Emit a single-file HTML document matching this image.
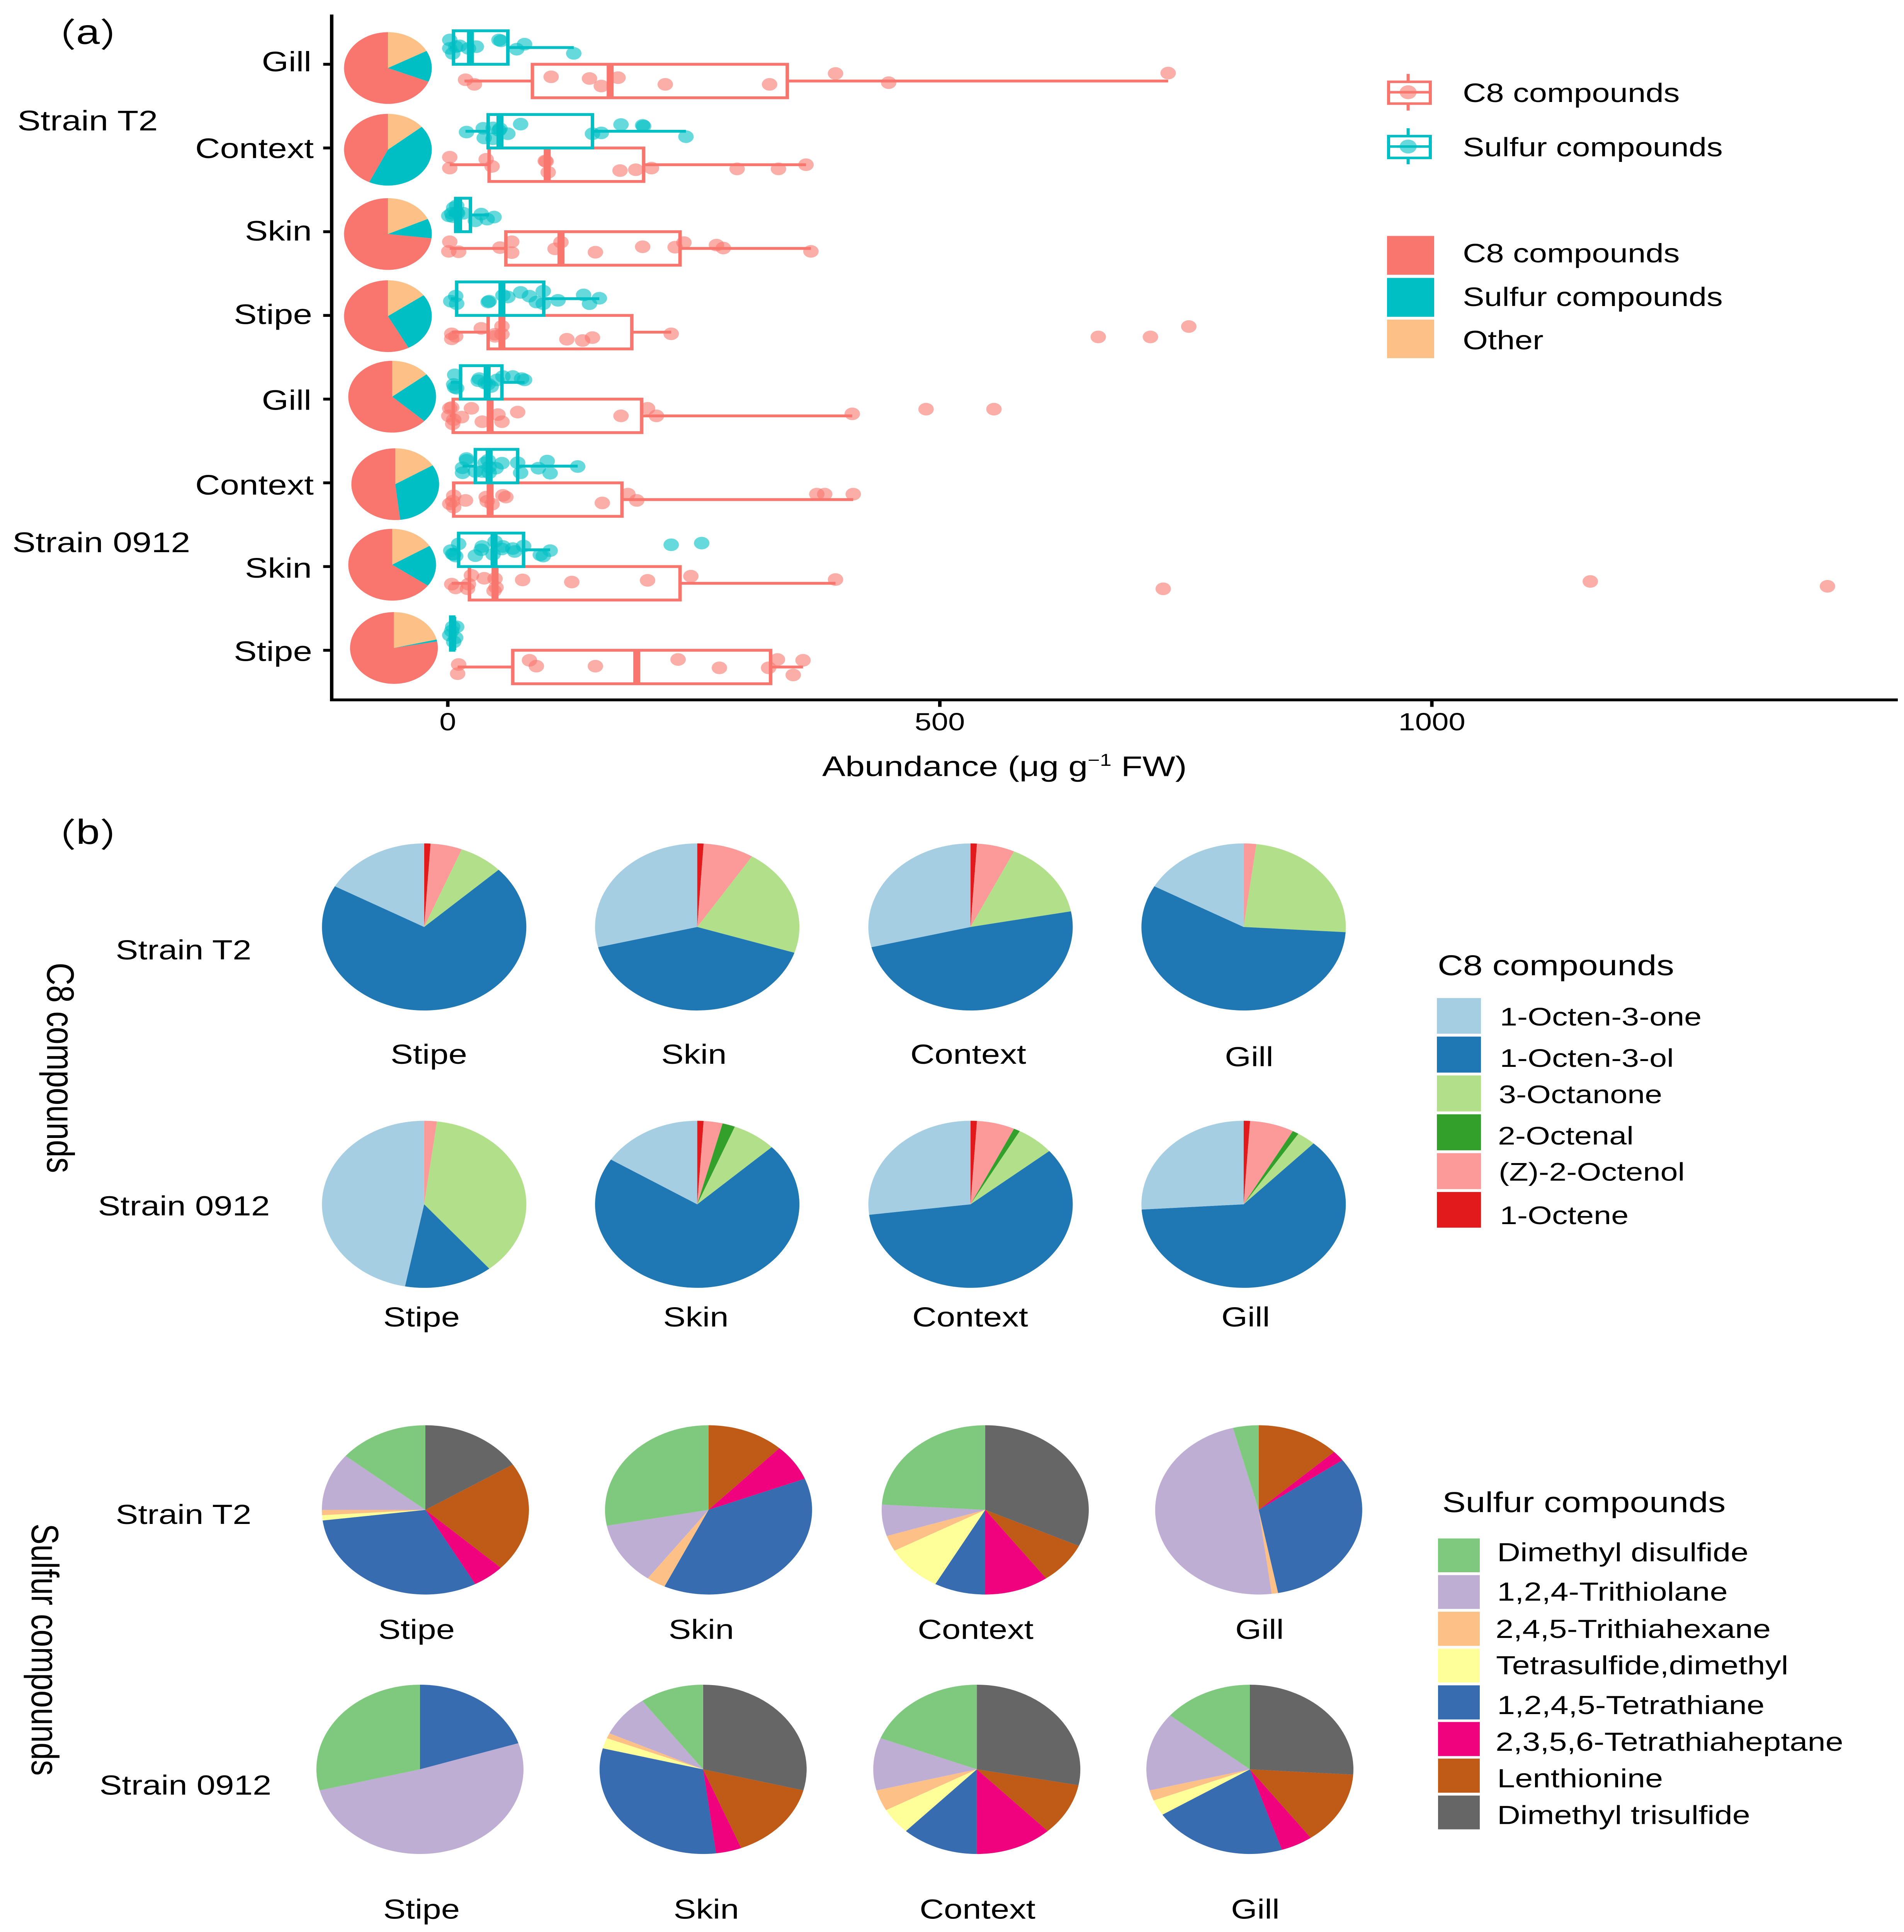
<!DOCTYPE html>
<html lang="en">
<head>
<meta charset="utf-8">
<title>Abundance of C8 and sulfur compounds</title>
<style>
html,body{margin:0;padding:0;background:#fff;width:100%;height:100%;overflow:hidden;}
svg{display:block;position:absolute;left:0;top:0;width:100vw;height:100vh;}
text{font-family:"Liberation Sans","Noto Sans CJK SC",sans-serif;fill:#000;}
</style>
</head>
<body>
<svg id="figure" xmlns="http://www.w3.org/2000/svg" viewBox="0 0 4928 6117" preserveAspectRatio="none">
<rect x="0" y="0" width="4928" height="6117" fill="#fff"/>

<!-- panel a static -->
<text x="92" y="139" font-size="110"><tspan dy="9" font-size="105">（</tspan><tspan dy="-9">a</tspan><tspan dy="9" font-size="105">）</tspan></text>
<text x="45" y="413" font-size="90">Strain T2</text>
<text x="32" y="1748" font-size="90">Strain 0912</text>
<g id="panelA"></g>
<line x1="858.5" y1="46" x2="858.5" y2="2220" stroke="#000" stroke-width="9"/>
<line x1="854" y1="2216" x2="4912" y2="2216" stroke="#000" stroke-width="9"/>
<g id="axisA"></g>
<text x="2128" y="2457" font-size="90">Abundance (μg g<tspan dy="-32" font-size="54">−1</tspan><tspan dy="32"> FW)</tspan></text>

<!-- panel a legend boxes -->
<g>
<line x1="3644.6" y1="234" x2="3644.6" y2="350" stroke="#F8766D" stroke-width="8"/>
<rect x="3594" y="259" width="108" height="69" fill="#fff" stroke="#F8766D" stroke-width="8"/>
<line x1="3594" y1="292" x2="3702" y2="292" stroke="#F8766D" stroke-width="8"/>
<circle cx="3644.6" cy="292" r="22" fill="#F8766D" fill-opacity="0.6"/>
</g>
<text x="3786" y="323" font-size="83.5">C8 compounds</text>
<g>
<line x1="3644.6" y1="406" x2="3644.6" y2="520" stroke="#00BFC4" stroke-width="8"/>
<rect x="3594" y="431" width="108" height="69" fill="#fff" stroke="#00BFC4" stroke-width="8"/>
<line x1="3594" y1="464" x2="3702" y2="464" stroke="#00BFC4" stroke-width="8"/>
<circle cx="3644.6" cy="464" r="22" fill="#00BFC4" fill-opacity="0.6"/>
</g>
<text x="3786" y="495" font-size="83.5">Sulfur compounds</text>

<!-- panel a legend fill -->
<rect x="3590" y="747" width="122" height="123" fill="#F8766D"/>
<rect x="3590" y="880" width="122" height="123" fill="#00BFC4"/>
<rect x="3590" y="1012" width="122" height="122" fill="#FDC086"/>
<text x="3786" y="831" font-size="83.5">C8 compounds</text>
<text x="3786" y="969" font-size="83.5">Sulfur compounds</text>
<text x="3786" y="1106" font-size="83.5">Other</text>

<!-- panel b static -->
<text x="92" y="2672" font-size="110"><tspan dy="9" font-size="105">（</tspan><tspan dy="-9">b</tspan><tspan dy="9" font-size="105">）</tspan></text>
<text transform="translate(122,3048) rotate(90)" font-size="99">C8 compounds</text>
<text transform="translate(82,4824) rotate(90)" font-size="99">Sulfur compounds</text>
<text x="475" y="3038" font-size="87" text-anchor="middle">Strain T2</text>
<text x="476" y="3848" font-size="87" text-anchor="middle">Strain 0912</text>
<text x="475" y="4825" font-size="87" text-anchor="middle">Strain T2</text>
<text x="480" y="5682" font-size="87" text-anchor="middle">Strain 0912</text>

<g id="piesB"></g>

<g font-size="87" text-anchor="middle">
<text x="1110" y="3368">Stipe</text>
<text x="1796" y="3368">Skin</text>
<text x="2506" y="3368">Context</text>
<text x="3233" y="3376">Gill</text>
<text x="1091" y="4200">Stipe</text>
<text x="1801" y="4200">Skin</text>
<text x="2511" y="4200">Context</text>
<text x="3224" y="4200">Gill</text>
<text x="1078" y="5189">Stipe</text>
<text x="1815" y="5189">Skin</text>
<text x="2525" y="5189">Context</text>
<text x="3260" y="5189">Gill</text>
<text x="1091" y="6075">Stipe</text>
<text x="1828" y="6075">Skin</text>
<text x="2530" y="6075">Context</text>
<text x="3249" y="6075">Gill</text>
</g>

<!-- C8 legend -->
<text x="3721" y="3088" font-size="91">C8 compounds</text>
<rect x="3719" y="3160" width="114" height="113" fill="#A6CEE3"/>
<rect x="3719" y="3282" width="114" height="114" fill="#1F78B4"/>
<rect x="3719" y="3405" width="114" height="114" fill="#B2DF8A"/>
<rect x="3719" y="3528" width="114" height="114" fill="#33A02C"/>
<rect x="3719" y="3651" width="114" height="114" fill="#FB9A99"/>
<rect x="3719" y="3774" width="114" height="113" fill="#E31A1C"/>
<g font-size="81">
<text x="3882" y="3247">1-Octen-3-one</text>
<text x="3882" y="3378">1-Octen-3-ol</text>
<text x="3879" y="3493">3-Octanone</text>
<text x="3877" y="3624">2-Octenal</text>
<text x="3879" y="3738">(Z)-2-Octenol</text>
<text x="3882" y="3876">1-Octene</text>
</g>

<!-- Sulfur legend -->
<text x="3733" y="4788" font-size="91">Sulfur compounds</text>
<rect x="3722" y="4871" width="108" height="107" fill="#7FC97F"/>
<rect x="3722" y="4987" width="108" height="107" fill="#BEAED4"/>
<rect x="3722" y="5103" width="108" height="108" fill="#FDC086"/>
<rect x="3722" y="5220" width="108" height="107" fill="#FFFF99"/>
<rect x="3722" y="5336" width="108" height="108" fill="#386CB0"/>
<rect x="3722" y="5452" width="108" height="108" fill="#F0027F"/>
<rect x="3722" y="5568" width="108" height="108" fill="#BF5B17"/>
<rect x="3722" y="5685" width="108" height="107" fill="#666666"/>
<g font-size="83">
<text x="3875" y="4943">Dimethyl disulfide</text>
<text x="3875" y="5068">1,2,4-Trithiolane</text>
<text x="3871" y="5186">2,4,5-Trithiahexane</text>
<text x="3872" y="5301">Tetrasulfide,dimethyl</text>
<text x="3875" y="5427">1,2,4,5-Tetrathiane</text>
<text x="3871" y="5543">2,3,5,6-Tetrathiaheptane</text>
<text x="3875" y="5659">Lenthionine</text>
<text x="3875" y="5775">Dimethyl trisulfide</text>
</g>
</svg>

<script>
// ---------- Data: panel (a) ----------
const categories = ["Gill","Context","Skin","Stipe","Gill","Context","Skin","Stipe"];
const xTickValues = [0,500,1000];

const sulfurValues = [
 [2,12,2,8,5,21,29,54,52,78,70,128],
 [19,36,46,74,52,61,37,46,53,147,156,176,198,199,242],
 [1,4,6,9,10,16,34,47,40,28,9,5],
 [8,3,9,41,42,56,61,74,83,97,90,97,112,138,144,154],
 [7,6,9,7,32,31,38,41,44,50,56,66,75,78],
 [19,19,15,15,28,38,41,42,49,35,42,55,71,74,92,101,104,132],
 [11,3,5,8,6,28,35,34,46,48,56,55,66,68,77,104,94,97,227,258],
 [5,9,2,8,6,4]
];
const sulfurJitter = [
 [-.29,-.22,-.19,-.21,-.13,-.19,-.21,-.28,-.29,-.24,-.18,-.13],
 [-.19,-.235,-.24,-.285,-.21,-.17,-.12,-.11,-.23,-.17,-.18,-.28,-.27,-.26,-.135],
 [-.19,-.22,-.285,-.31,-.22,-.22,-.21,-.175,-.15,-.13,-.23,-.18],
 [-.23,-.17,-.14,-.16,-.17,-.24,-.22,-.275,-.23,-.29,-.16,-.14,-.18,-.245,-.14,-.205],
 [-.29,-.175,-.13,-.14,-.245,-.22,-.19,-.18,-.15,-.23,-.27,-.27,-.245,-.23],
 [-.29,-.27,-.18,-.12,-.135,-.24,-.27,-.19,-.175,-.135,-.12,-.235,-.24,-.12,-.175,-.26,-.115,-.195],
 [-.27,-.19,-.15,-.125,-.145,-.13,-.24,-.2,-.145,-.30,-.24,-.21,-.215,-.18,-.245,-.19,-.14,-.125,-.26,-.28],
 [-.28,-.28,-.18,-.15,-.10,-.23]
];
const c8Values = [
 [18,27,105,144,156,173,221,327,394,448,732],
 [2,2,39,45,100,99,102,175,191,207,294,336,364],
 [2,1,11,53,65,65,115,109,150,198,231,240,273,280,369],
 [4,8,4,34,48,55,55,48,121,137,147,227,661,714,753],
 [2,4,24,1,14,6,5,35,51,55,71,176,203,212,411,486,555],
 [6,2,6,5,18,39,40,45,56,59,157,183,192,375,383,412],
 [4,8,21,20,24,37,48,49,47,76,126,203,247,394,727,1161,1402],
 [11,10,83,90,150,234,276,326,335,361,351]
];
const c8Jitter = [
 [.185,.24,.15,.17,.26,.16,.24,.24,.11,.22,.105],
 [.11,.24,.135,.22,.16,.155,.29,.27,.26,.24,.25,.25,.20],
 [.12,.235,.24,.19,.12,.25,.125,.205,.245,.18,.185,.13,.16,.195,.235],
 [.22,.25,.28,.155,.225,.13,.225,.25,.285,.30,.265,.22,.257,.257,.133],
 [.11,.10,.11,.20,.215,.245,.295,.27,.185,.27,.155,.20,.11,.20,.176,.12,.12],
 [.155,.25,.29,.22,.21,.17,.22,.255,.15,.17,.24,.135,.21,.135,.135,.135],
 [.21,.255,.21,.265,.105,.14,.145,.25,.29,.16,.185,.165,.115,.155,.266,.178,.236],
 [.17,.28,.12,.19,.19,.11,.21,.21,.11,.12,.295]
];
const sulfurLow = [2,18,1,3,3,15,2,1];
const sulfurQ1 = [5.8,41,8,9,13,28,11,3];
const sulfurMedian = [23,53,11,55,40,42,47,5];
const sulfurQ3 = [61,147,23,97.5,55,71,77,6];
const sulfurHigh = [128,242,42,154,78,132,104,8];
const c8Low = [17,2,2,4,2,2,4,10];
const c8Q1 = [86,42,59,41,5.5,6,22,66];
const c8Median = [165,101,115,55,43,43,48,192];
const c8Q3 = [345,199,236,187,197,177,236,328];
const c8High = [732,364,369,227,411,412,394,361];

// Share of each class per sample, % (clockwise from top: Other, Sulfur, C8)
const classOther = [17.1,14,18.1,15.1,14.3,16.2,16.2,21.2];
const classSulfur = [14.1,43,8.8,27.1,22.6,32,18.7,0.9];
const classC8 = [68.8,43,73.1,57.8,63.1,51.8,65.1,77.9];

// ---------- Data: panel (b), % clockwise from top ----------
const c8Compounds = ["1-Octene","(Z)-2-Octenol","2-Octenal","3-Octanone","1-Octen-3-ol","1-Octen-3-one"];
const c8T2Stipe = [1,5,0,7,70.1,16.9];
const c8T2Skin = [1,8,0,21,41.1,28.9];
const c8T2Context = [1,6,0,15,49.1,28.9];
const c8T2Gill = [0,2,0,24,57.1,16.9];
const c8M0912Stipe = [0,2,0,37,14,47];
const c8M0912Skin = [1,3,2,7,71,16];
const c8M0912Context = [1,6,1,6,59,27];
const c8M0912Gill = [1,7,1,3,62,26];

const sulfurCompounds = ["Dimethyl trisulfide","Lenthionine","2,3,5,6-Tetrathiaheptane","1,2,4,5-Tetrathiane","Tetrasulfide,dimethyl","2,4,5-Trithiahexane","1,2,4-Trithiolane","Dimethyl disulfide"];
const sT2Stipe = [16,21,5,31,1,1,11,14];
const sT2Skin = [0,12,7,38,0,3,12,28];
const sT2Context = [32,8,10,8,9,3,6,24];
const sT2Gill = [0,13,2,32,0,1,48,4];
const sM0912Stipe = [0,0,0,20,0,0,51,29];
const sM0912Skin = [29,15,4,31,2,1,8,10];
const sM0912Context = [28,10,12,12,5,4,10,19];
const sM0912Gill = [26,14,5,21,3,2,15,14];

// ---------- Layout & styling (separate from data) ----------
const NS = "http://www.w3.org/2000/svg";
const RED = "#F8766D", TEAL = "#00BFC4";
const classColors = ["#FDC086", TEAL, RED];
const c8Colors = ["#E31A1C","#FB9A99","#33A02C","#B2DF8A","#1F78B4","#A6CEE3"];
const sulfurColors = ["#666666","#BF5B17","#F0027F","#386CB0","#FFFF99","#FDC086","#BEAED4","#7FC97F"];
const insetCenterX = [1004,1004,1004,1004,1015,1023,1015,1019.6];
const insetCenterY = [215.4,474,741,1001,1256,1533,1788,2051.6];
const labelRight = [806,812,807,808,806,812,807,808];
const labelDrop = [22,32,28,27,34,37,35,34];

function xScale(v){ return 1159 + 2.547 * v; }
function yScale(k){ return 203.5 + 265.05 * k; }

function make(tag, attrs, parent){
  const el = document.createElementNS(NS, tag);
  for (const k in attrs) el.setAttribute(k, attrs[k]);
  parent.appendChild(el);
  return el;
}

function drawPie(parent, cx, cy, r, shares, colors, name, sliceNames){
  const g = make("g", {}, parent);
  
  
  const total = shares.reduce((a, b) => a + b, 0);
  let acc = 0;
  shares.forEach((share, i) => {
    if (share <= 0) return;
    const a0 = acc / total * 2 * Math.PI;
    acc += share;
    const a1 = acc / total * 2 * Math.PI;
    const large = (a1 - a0) > Math.PI ? 1 : 0;
    const d = "M" + cx + " " + cy +
      "L" + (cx + r * Math.sin(a0)) + " " + (cy - r * Math.cos(a0)) +
      "A" + r + " " + r + " 0 " + large + " 1 " + (cx + r * Math.sin(a1)) + " " + (cy - r * Math.cos(a1)) + "Z";
    const p = make("path", {d: d, fill: colors[i]}, g);
    
    
  });
}

function drawSeries(parent, k, values, jitter, low, q1, med, q3, high, color, yTop, name){
  const g = make("g", {}, parent);
  
  
  values.forEach((v, i) => {
    const c = make("circle", {cx: xScale(v), cy: yScale(k + jitter[i]), r: 20, fill: color, "fill-opacity": 0.6}, g);
    
    
  });
  const yMid = yScale(yTop + 0.2), y0 = yScale(yTop), y1 = yScale(yTop + 0.4);
  const w1 = make("line", {x1: xScale(low), x2: xScale(q1), y1: yMid, y2: yMid, stroke: color, "stroke-width": 9}, g);
  
  
  const w2 = make("line", {x1: xScale(q3), x2: xScale(high), y1: yMid, y2: yMid, stroke: color, "stroke-width": 9}, g);
  
  
  const box = make("rect", {x: xScale(q1), y: y0, width: xScale(q3) - xScale(q1), height: y1 - y0, fill: "none", stroke: color, "stroke-width": 9}, g);
  
  
  const m = make("line", {x1: xScale(med), x2: xScale(med), y1: y0, y2: y1, stroke: color, "stroke-width": 18}, g);
  
  
}

const panelA = document.getElementById("panelA");
const axisA = document.getElementById("axisA");
const piesB = document.getElementById("piesB");

categories.forEach((cat, k) => {
  drawPie(panelA, insetCenterX[k], insetCenterY[k], 113.6,
    [classOther[k], classSulfur[k], classC8[k]], classColors,
    'class-pie-' + k, ["other","sulfur","c8"]);
});
categories.forEach((cat, k) => {
  drawSeries(panelA, k, c8Values[k], c8Jitter[k], c8Low[k], c8Q1[k], c8Median[k], c8Q3[k], c8High[k], RED, k, 'c8-boxplot-' + k);
  drawSeries(panelA, k, sulfurValues[k], sulfurJitter[k], sulfurLow[k], sulfurQ1[k], sulfurMedian[k], sulfurQ3[k], sulfurHigh[k], TEAL, k - 0.4, 'sulfur-boxplot-' + k);
});

categories.forEach((cat, k) => {
  const t = make("line", {x1: 836.5, x2: 854, y1: yScale(k), y2: yScale(k), stroke: "#000", "stroke-width": 9}, axisA);
  
  
  const l = make("text", {x: labelRight[k], y: yScale(k) + labelDrop[k], "font-size": 89, "text-anchor": "end"}, axisA);
  l.textContent = cat;
  
  
});
xTickValues.forEach(v => {
  const t = make("line", {x1: xScale(v), x2: xScale(v), y1: 2220, y2: 2238, stroke: "#000", "stroke-width": 9}, axisA);
  
  
  const l = make("text", {x: xScale(v), y: 2312, "font-size": 78, "text-anchor": "middle"}, axisA);
  l.textContent = String(v);
  
  
});

// Panel (b) pies
const c8Shares = [c8T2Stipe, c8T2Skin, c8T2Context, c8T2Gill, c8M0912Stipe, c8M0912Skin, c8M0912Context, c8M0912Gill];
const c8PieX = [1097.8,1804.6,2512,3218.8,1097.8,1804.6,2512,3218.8];
const c8PieY = [2934.9,2934.9,2934.9,2934.9,3813,3813,3813,3813];
c8Shares.forEach((shares, i) => {
  drawPie(piesB, c8PieX[i], c8PieY[i], 264.5, shares, c8Colors, 'c8-pie-' + i, c8Compounds);
});
const sulfurShares = [sT2Stipe, sT2Skin, sT2Context, sT2Gill, sM0912Stipe, sM0912Skin, sM0912Context, sM0912Gill];
const sulfurPieX = [1101,1833.9,2550,3257.8,1086.9,1819.8,2528.2,3235];
const sulfurPieY = [4780.5,4780.5,4780.5,4780.5,5602,5602,5602,5602];
sulfurShares.forEach((shares, i) => {
  drawPie(piesB, sulfurPieX[i], sulfurPieY[i], 268, shares, sulfurColors, 'sulfur-pie-' + i, sulfurCompounds);
});
</script>
</body>
</html>
